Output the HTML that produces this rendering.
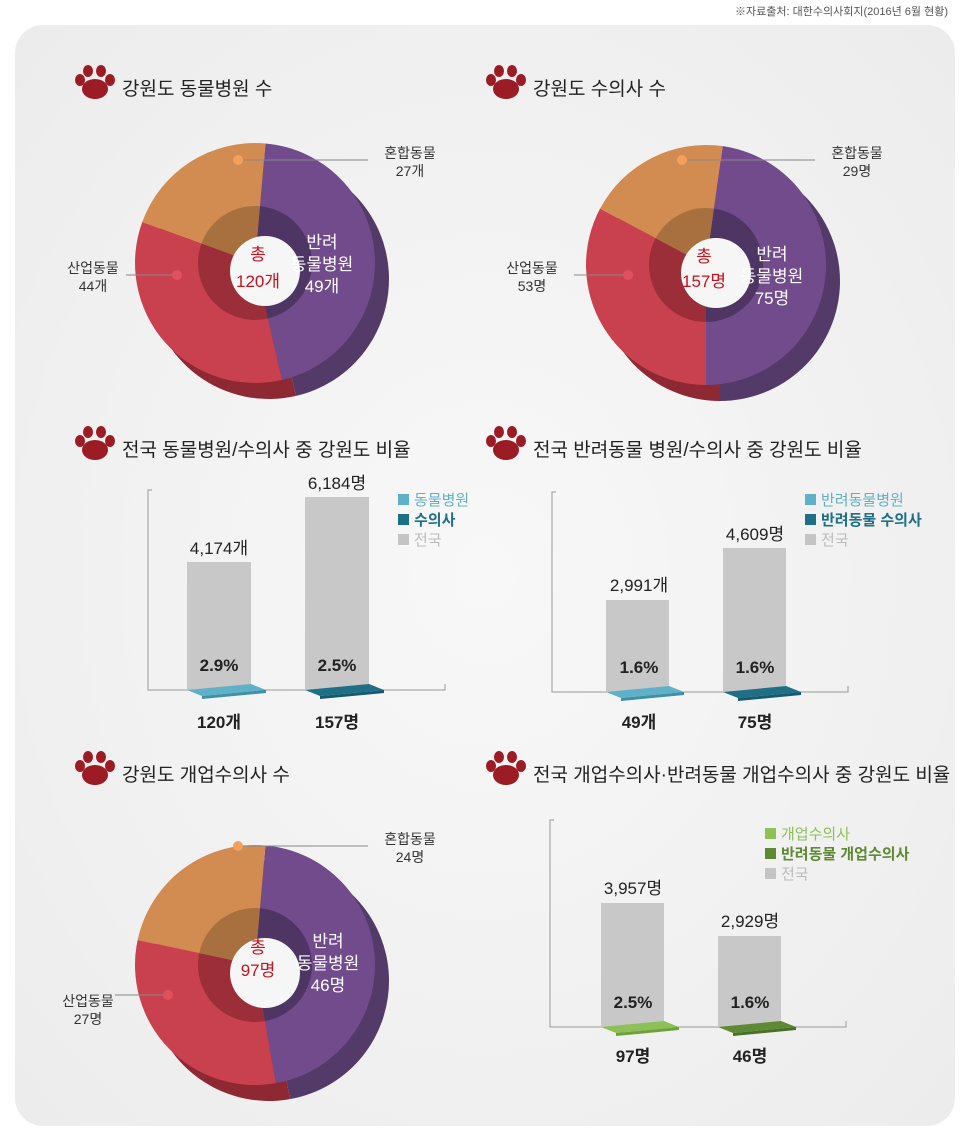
<!DOCTYPE html>
<html><head><meta charset="utf-8">
<style>
html,body{margin:0;padding:0;background:#fff;}
svg{display:block;font-family:"Liberation Sans","Noto Sans CJK KR",sans-serif;}
</style></head><body>
<svg id="s" width="960" height="1134" viewBox="0 0 960 1134" xmlns="http://www.w3.org/2000/svg">
<defs>
<radialGradient id="bg" cx="0.5" cy="0.5" r="0.7"><stop offset="0" stop-color="#f8f8f8"/><stop offset="1" stop-color="#ececec"/></radialGradient>
<g id="paw" fill="#9b1c24">
<ellipse cx="20" cy="22" rx="13" ry="10"/>
<ellipse cx="5" cy="13" rx="5" ry="6"/>
<ellipse cx="13" cy="4" rx="5" ry="6"/>
<ellipse cx="26" cy="4" rx="5" ry="6"/>
<ellipse cx="35" cy="13" rx="5" ry="6"/>
</g>
</defs>
<text x="948" y="15" font-size="11" fill="#555" text-anchor="end">※자료출처: 대한수의사회지(2016년 6월 현황)</text>
<rect x="15" y="25" width="940" height="1101" rx="28" fill="url(#bg)"/>

<g id="donuts"></g>

<!-- titles -->
<use href="#paw" x="75" y="67"/>
<text x="122" y="95" font-size="19" fill="#222">강원도 동물병원 수</text>
<use href="#paw" x="486" y="67"/>
<text x="533" y="95" font-size="19" fill="#222">강원도 수의사 수</text>
<use href="#paw" x="75" y="428"/>
<text x="122" y="456" font-size="19" fill="#222">전국 동물병원/수의사 중 강원도 비율</text>
<use href="#paw" x="486" y="428"/>
<text x="533" y="456" font-size="19" fill="#222">전국 반려동물 병원/수의사 중 강원도 비율</text>
<use href="#paw" x="75" y="753"/>
<text x="122" y="781" font-size="19" fill="#222">강원도 개업수의사 수</text>
<use href="#paw" x="486" y="753"/>
<text x="533" y="781" font-size="19" fill="#222">전국 개업수의사·반려동물 개업수의사 중 강원도 비율</text>

<g font-size="14" fill="#333" text-anchor="middle">
<line x1="238" y1="160" x2="368" y2="160" stroke="#888"/>
<circle cx="238" cy="160" r="5" fill="#f2a05c"/>
<text x="410" y="158">혼합동물</text><text x="410" y="176">27개</text>
<line x1="126" y1="275" x2="176" y2="275" stroke="#888"/>
<circle cx="177" cy="275" r="5" fill="#e25060"/>
<text x="93" y="273">산업동물</text><text x="93" y="291">44개</text>
<text x="322" y="248" font-size="17" fill="#fff">반려</text>
<text x="322" y="270" font-size="17" fill="#fff">동물병원</text>
<text x="322" y="292" font-size="17" fill="#fff">49개</text>
<text x="258" y="260" font-size="17" fill="#c5121e">총</text>
<text x="258" y="287" font-size="17" fill="#c5121e">120개</text>

<line x1="682" y1="160" x2="815" y2="160" stroke="#888"/>
<circle cx="682" cy="160" r="5" fill="#f2a05c"/>
<text x="857" y="158">혼합동물</text><text x="857" y="176">29명</text>
<line x1="574" y1="275" x2="627" y2="275" stroke="#888"/>
<circle cx="628" cy="275" r="5" fill="#e25060"/>
<text x="532" y="273">산업동물</text><text x="532" y="291">53명</text>
<text x="772" y="260" font-size="17" fill="#fff">반려</text>
<text x="772" y="282" font-size="17" fill="#fff">동물병원</text>
<text x="772" y="304" font-size="17" fill="#fff">75명</text>
<text x="704" y="262" font-size="17" fill="#c5121e">총</text>
<text x="704" y="287" font-size="17" fill="#c5121e">157명</text>

<line x1="238" y1="846" x2="368" y2="846" stroke="#888"/>
<circle cx="238" cy="846" r="5" fill="#f2a05c"/>
<text x="410" y="844">혼합동물</text><text x="410" y="862">24명</text>
<line x1="115" y1="995" x2="166" y2="995" stroke="#888"/>
<circle cx="168" cy="995" r="5" fill="#e25060"/>
<text x="88" y="1006">산업동물</text><text x="88" y="1024">27명</text>
<text x="328" y="947" font-size="17" fill="#fff">반려</text>
<text x="328" y="969" font-size="17" fill="#fff">동물병원</text>
<text x="328" y="991" font-size="17" fill="#fff">46명</text>
<text x="258" y="953" font-size="17" fill="#c5121e">총</text>
<text x="258" y="976" font-size="17" fill="#c5121e">97명</text>
</g>

<g stroke="#999" fill="none"><path d="M152 490 H148 V690 H445 V684"/><path d="M556 492 H552 V692 H848 V686"/><path d="M554 820 H550 V1027 H846 V1021"/></g>
<g fill="#c8c8c8">
<rect x="187" y="562" width="64" height="128"/><rect x="305" y="497" width="64" height="193"/>
<rect x="606" y="600" width="63" height="92"/><rect x="723" y="548" width="63" height="144"/>
<rect x="601" y="903" width="63" height="124"/><rect x="718" y="936" width="63" height="91"/>
</g>
<path d="M187 690 L251 684 L266 690 L202 696 Z" fill="#5fb1c8"/><path d="M202 696 L266 690 L266 693 L202 699 Z" fill="#3f8fa5"/>
<path d="M305 690 L369 684 L384 690 L320 696 Z" fill="#1f6f86"/><path d="M320 696 L384 690 L384 693 L320 699 Z" fill="#155a6e"/>
<path d="M606 692 L669 686 L684 692 L621 698 Z" fill="#5fb1c8"/><path d="M621 698 L684 692 L684 695 L621 701 Z" fill="#3f8fa5"/>
<path d="M723 692 L786 686 L801 692 L738 698 Z" fill="#1f6f86"/><path d="M738 698 L801 692 L801 695 L738 701 Z" fill="#155a6e"/>
<path d="M601 1027 L664 1021 L679 1027 L616 1033 Z" fill="#8dc056"/><path d="M616 1033 L679 1027 L679 1030 L616 1036 Z" fill="#6fa03c"/>
<path d="M718 1027 L781 1021 L796 1027 L733 1033 Z" fill="#5e8a34"/><path d="M733 1033 L796 1027 L796 1030 L733 1036 Z" fill="#4a7028"/>

<g font-size="17" fill="#222" text-anchor="middle">
<text x="219" y="554">4,174개</text><text x="337" y="489">6,184명</text>
<text x="639" y="591">2,991개</text><text x="755" y="540">4,609명</text>
<text x="633" y="894">3,957명</text><text x="750" y="927">2,929명</text>
</g>
<g font-size="17" fill="#222" text-anchor="middle" font-weight="bold">
<text x="219" y="671">2.9%</text><text x="337" y="671">2.5%</text>
<text x="639" y="673">1.6%</text><text x="755" y="673">1.6%</text>
<text x="633" y="1008">2.5%</text><text x="750" y="1008">1.6%</text>
<text x="219" y="728">120개</text><text x="337" y="728">157명</text>
<text x="639" y="728">49개</text><text x="755" y="728">75명</text>
<text x="633" y="1062">97명</text><text x="750" y="1062">46명</text>
</g>
<g font-size="15">
<rect x="398" y="494" width="11" height="11" fill="#5fb1c8"/><text x="414" y="505" fill="#5fb1c8">동물병원</text>
<rect x="398" y="514" width="11" height="11" fill="#1f6f86"/><text x="414" y="525" fill="#1f6f86" font-weight="bold">수의사</text>
<rect x="398" y="534" width="11" height="11" fill="#c4c4c4"/><text x="414" y="545" fill="#bbb">전국</text>
<rect x="805" y="494" width="11" height="11" fill="#5fb1c8"/><text x="821" y="505" fill="#5fb1c8">반려동물병원</text>
<rect x="805" y="514" width="11" height="11" fill="#1f6f86"/><text x="821" y="525" fill="#1f6f86" font-weight="bold">반려동물 수의사</text>
<rect x="805" y="534" width="11" height="11" fill="#c4c4c4"/><text x="821" y="545" fill="#bbb">전국</text>
<rect x="765" y="828" width="11" height="11" fill="#8dc056"/><text x="781" y="839" fill="#8dc056">개업수의사</text>
<rect x="765" y="848" width="11" height="11" fill="#5e8a34"/><text x="781" y="859" fill="#5e8a34" font-weight="bold">반려동물 개업수의사</text>
<rect x="765" y="868" width="11" height="11" fill="#c4c4c4"/><text x="781" y="879" fill="#bbb">전국</text>
</g>
</svg>
<script>
(function(){
var NS="http://www.w3.org/2000/svg",g=document.getElementById("donuts");
function pt(cx,cy,r,a){a=(a-90)*Math.PI/180;return [cx+r*Math.cos(a),cy+r*Math.sin(a)];}
function wedge(cx,cy,R,a0,a1){var l=(a1-a0)>180?1:0,p=pt(cx,cy,R,a0),q=pt(cx,cy,R,a1);
return "M"+cx+","+cy+" L"+p+" A"+R+" "+R+" 0 "+l+" 1 "+q+"Z";}
function add(d,f){var e=document.createElementNS(NS,"path");e.setAttribute("d",d);e.setAttribute("fill",f);g.appendChild(e);}
function circ(x,y,r,f){var h=document.createElementNS(NS,"circle");h.setAttribute("cx",x);h.setAttribute("cy",y);h.setAttribute("r",r);h.setAttribute("fill",f);g.appendChild(h);}
function donut(cx,cy,R,r,a,b,c){
 var dx=14,dy=16;
 add(wedge(cx+dx,cy+dy,R,a,b),"#533a68");
 add(wedge(cx+dx,cy+dy,R,b,a+360),"#8e2833");
 add(wedge(cx,cy,R,a,b),"#714b8b");
 add(wedge(cx,cy,R,b,c),"#c9414f");
 add(wedge(cx,cy,R,c,a+360),"#d28b50");
 // inner wall (darker)
 add(wedge(cx,cy,r,a,b),"#4f3564");
 add(wedge(cx,cy,r,b,c),"#9c2e3a");
 add(wedge(cx,cy,r,c,a+360),"#a8703e");
 circ(cx+10,cy+8,r-22,"#f6f6f6");
}
donut(255,263,120,57,5,167,290);
donut(706,265,120,57,8,180,298);
donut(255,965,120,57,5,170,282);
})();
</script>
</body></html>
